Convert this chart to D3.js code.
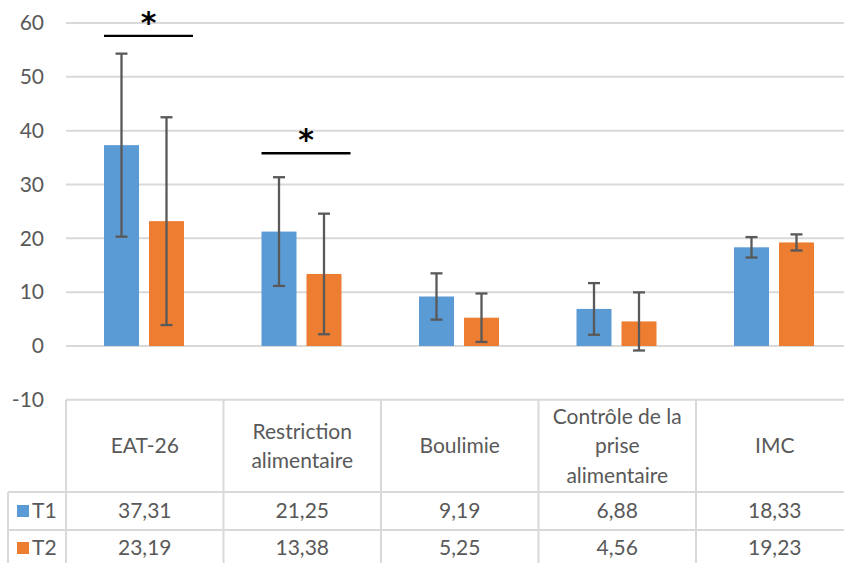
<!DOCTYPE html>
<html><head><meta charset="utf-8">
<script src="https://cdn.jsdelivr.net/npm/d3@7"></script>
<style>
html,body{margin:0;padding:0;background:#fff;}
svg{display:block;font-family:Lato,"Open Sans",sans-serif;}
</style></head>
<body><svg id="chart" width="844" height="563"></svg>
<script>
const categories = ["EAT-26", "Restriction alimentaire", "Boulimie", "Contrôle de la prise alimentaire", "IMC"];
const categoryLines = [["EAT-26"], ["Restriction", "alimentaire"], ["Boulimie"], ["Contrôle de la", "prise", "alimentaire"], ["IMC"]];
const seriesNames = ["T1", "T2"];
const valuesT1 = [37.31, 21.25, 9.19, 6.88, 18.33];
const valuesT2 = [23.19, 13.38, 5.25, 4.56, 19.23];
const sdT1 = [17.0, 10.1, 4.3, 4.8, 1.9];
const sdT2 = [19.3, 11.2, 4.5, 5.4, 1.5];
const yTicks = [-10, 0, 10, 20, 30, 40, 50, 60];
const significance = [{cat: "EAT-26", y: 57.6, label: "*"}, {cat: "Restriction alimentaire", y: 35.8, label: "*"}];

const colors = {T1: "#5B9BD5", T2: "#ED7D31"};
const textColor = "#595959";
const gridColor = "#D9D9D9";
const fontSize = 21;

const svg = d3.select("#chart");
const plotLeft = 66, colW = 157.5;
const y = d3.scaleLinear().domain([-10, 60]).range([399.8, 23]);
const x0 = d3.scaleBand().domain(categories).range([plotLeft, plotLeft + colW * categories.length]).padding(0);
const x1 = d3.scaleBand().domain(seriesNames).range([38, 118]).paddingInner(0.222);

const seriesData = {T1: {v: valuesT1, sd: sdT1}, T2: {v: valuesT2, sd: sdT2}};

// gridlines
svg.append("g").selectAll("line").data(yTicks).join("line")
  .attr("x1", plotLeft).attr("x2", 844)
  .attr("y1", d => y(d)).attr("y2", d => y(d))
  .attr("stroke", gridColor).attr("stroke-width", 2);

// y axis labels
const yAxis = d3.axisLeft(y).tickValues(yTicks).tickSize(0).tickPadding(22).tickFormat(d => String(d));
const ga = svg.append("g").attr("transform", `translate(${plotLeft},0)`).call(yAxis);
ga.select(".domain").remove();
ga.selectAll("text").attr("fill", textColor).style("font-size", fontSize + "px").style("font-family", "Lato");

// bars
const rows = [];
categories.forEach((c, i) => seriesNames.forEach(s => rows.push({cat: c, s, v: seriesData[s].v[i], sd: seriesData[s].sd[i]})));
svg.append("g").selectAll("rect").data(rows).join("rect")
  .attr("x", d => x0(d.cat) + x1(d.s))
  .attr("width", x1.bandwidth())
  .attr("y", d => y(Math.max(0, d.v)))
  .attr("height", d => Math.abs(y(d.v) - y(0)))
  .attr("fill", d => colors[d.s]);

// error bars
const eg = svg.append("g").attr("stroke", "#595959").attr("stroke-width", 2.3);
const cap = 6;
rows.forEach(d => {
  const cx = x0(d.cat) + x1(d.s) + x1.bandwidth() / 2;
  eg.append("line").attr("x1", cx).attr("x2", cx).attr("y1", y(d.v + d.sd)).attr("y2", y(d.v - d.sd));
  eg.append("line").attr("x1", cx - cap).attr("x2", cx + cap).attr("y1", y(d.v + d.sd)).attr("y2", y(d.v + d.sd));
  eg.append("line").attr("x1", cx - cap).attr("x2", cx + cap).attr("y1", y(d.v - d.sd)).attr("y2", y(d.v - d.sd));
});

// significance
const sg = svg.append("g");
significance.forEach(d => {
  const xa = x0(d.cat) + x1("T1");
  const xb = x0(d.cat) + x1("T2") + x1.bandwidth() + 9;
  sg.append("line").attr("x1", xa).attr("x2", xb).attr("y1", y(d.y)).attr("y2", y(d.y))
    .attr("stroke", "#000").attr("stroke-width", 2.3);
  sg.append("text").attr("x", (xa + xb) / 2).attr("y", y(d.y) - 3).attr("text-anchor", "middle")
    .style("font-family", "DejaVu Sans").style("font-size", "30px").style("font-weight", "bold")
    .attr("fill", "#000").text(d.label);
});

// data table
const tableTop = y(-10), headerBottom = 492, row1Bottom = 530, row2Bottom = 568, legendLeft = 8;
const tg = svg.append("g").attr("stroke", gridColor).attr("stroke-width", 2);
categories.forEach(c => {
  tg.append("line").attr("x1", x0(c)).attr("x2", x0(c)).attr("y1", tableTop).attr("y2", row2Bottom);
});
tg.append("line").attr("x1", x0.range()[1]).attr("x2", x0.range()[1]).attr("y1", tableTop).attr("y2", row2Bottom);
tg.append("line").attr("x1", legendLeft).attr("x2", legendLeft).attr("y1", headerBottom).attr("y2", row2Bottom);
[headerBottom, row1Bottom, row2Bottom].forEach(yy => {
  tg.append("line").attr("x1", legendLeft).attr("x2", 844).attr("y1", yy).attr("y2", yy);
});

const txt = svg.append("g").attr("fill", textColor).style("font-size", fontSize + "px").attr("text-anchor", "middle");
const lineH = 29.5;
categoryLines.forEach((lines, i) => {
  const cx = x0(categories[i]) + x0.bandwidth() / 2;
  const cy = (tableTop + headerBottom) / 2;
  lines.forEach((l, j) => {
    txt.append("text").attr("x", cx).attr("y", cy + (j - (lines.length - 1) / 2) * lineH)
      .attr("dy", "0.35em").text(l);
  });
});
const fmt = d3.formatLocale({decimal: ",", thousands: " ", grouping: [3], currency: ["", ""]}).format(".2f");
const rowY = {T1: (headerBottom + row1Bottom) / 2, T2: (row1Bottom + row2Bottom) / 2 - 1};
seriesNames.forEach(s => {
  seriesData[s].v.forEach((v, i) => {
    txt.append("text").attr("x", x0(categories[i]) + x0.bandwidth() / 2).attr("y", rowY[s]).attr("dy", "0.35em").text(fmt(v));
  });
  svg.append("rect").attr("x", 17).attr("y", rowY[s] - 6).attr("width", 12).attr("height", 12).attr("fill", colors[s]);
  svg.append("text").attr("x", 32).attr("y", rowY[s]).attr("dy", "0.35em").attr("fill", textColor)
    .style("font-size", fontSize + "px").text(s);
});
</script>
</body></html>
